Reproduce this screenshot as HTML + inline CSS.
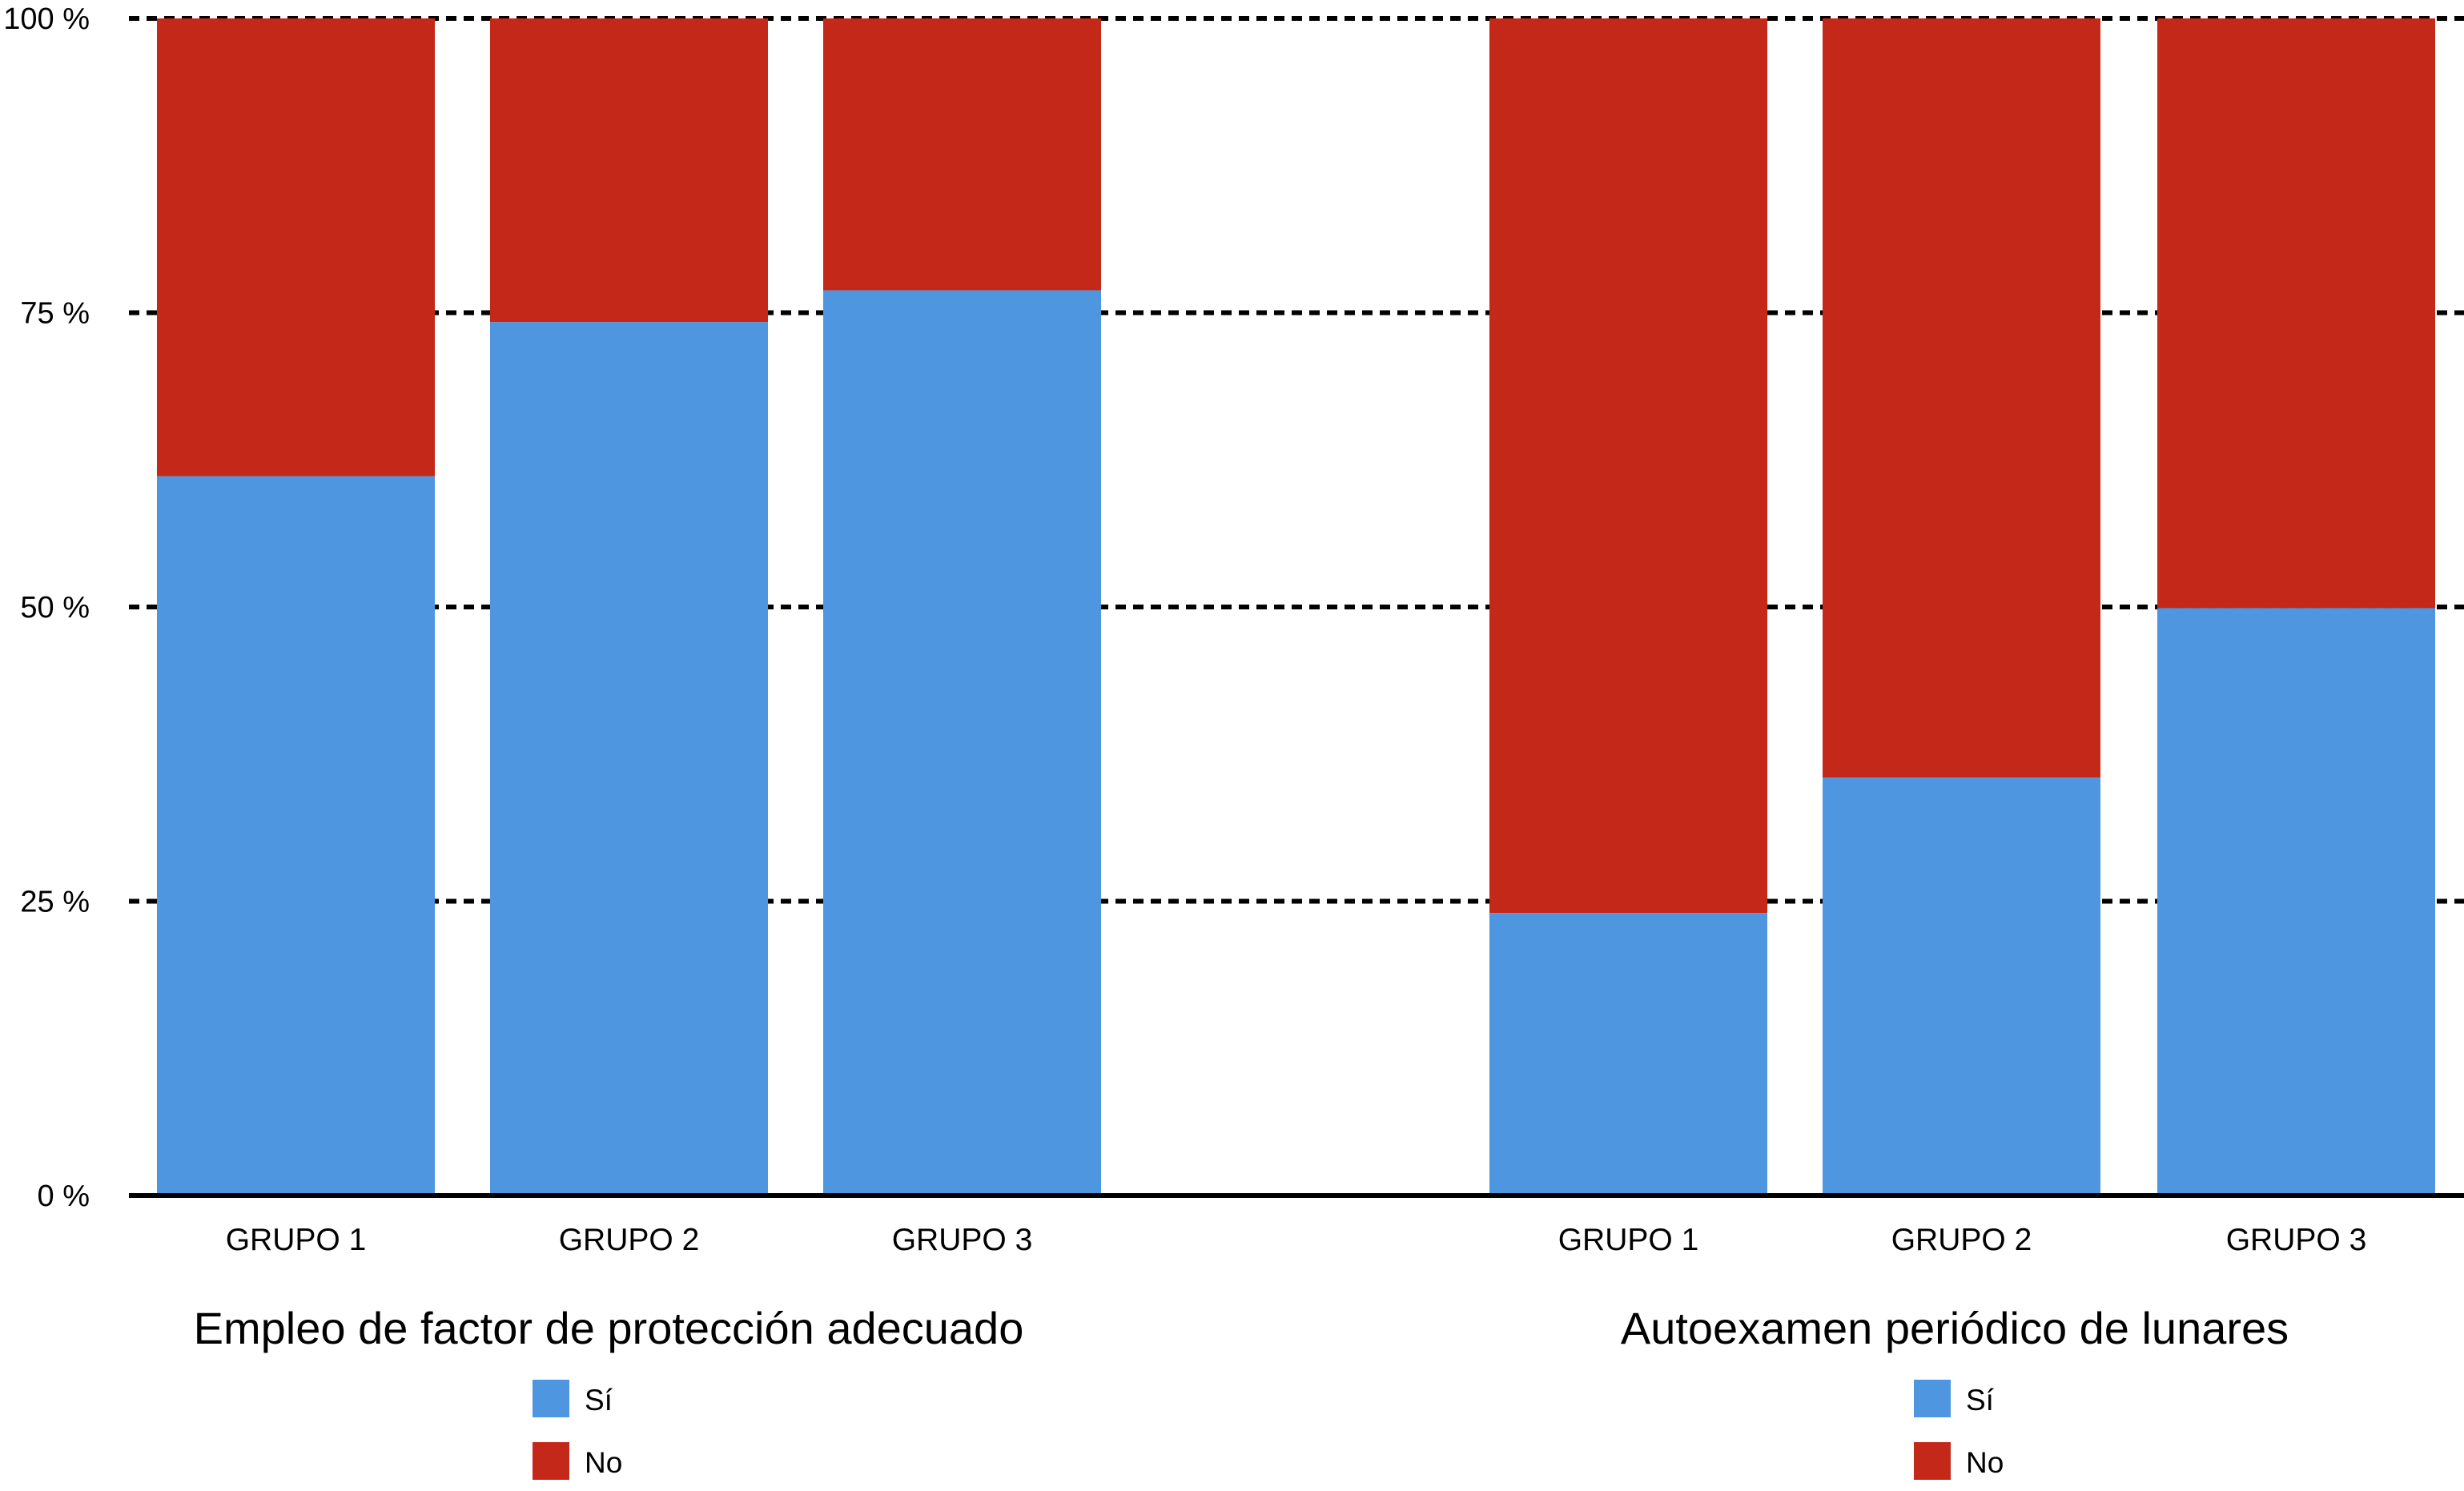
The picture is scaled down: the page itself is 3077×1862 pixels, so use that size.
<!DOCTYPE html>
<html><head><meta charset="utf-8"><style>
html,body{margin:0;padding:0;background:#fff;}
svg{display:block;}
text{font-family:"Liberation Sans Narrow","Liberation Sans",sans-serif;fill:#000;}
</style></head><body>
<svg id="chart" width="3077" height="1862" viewBox="0 0 3077 1862" xmlns="http://www.w3.org/2000/svg">
<g id="grid"></g><g id="bars"></g><g id="axis"></g><g id="labels"></g>
</svg>
<script>
const categories = ["GRUPO 1","GRUPO 2","GRUPO 3","GRUPO 1","GRUPO 2","GRUPO 3"];
const siValues = [61.1, 74.2, 76.9, 24.0, 35.5, 49.9];
const noValues = [38.9, 25.8, 23.1, 76.0, 64.5, 50.1];
const yTicks = [0, 25, 50, 75, 100];
const yTickLabels = ["0 %","25 %","50 %","75 %","100 %"];
const panelTitles = ["Empleo de factor de protección adecuado","Autoexamen periódico de lunares"];
const legendLabels = ["Sí","No"];

const NS="http://www.w3.org/2000/svg";
const BLUE="#4e97e0", RED="#c42818";
const y0=1493, y100=23;
function yScale(v){return y0-(y0-y100)*v/100;}
const barLefts=[196,612,1028,1860,2276,2694];
const barW=347;
function xScale(i){return barLefts[i];}
function mk(tag,attrs,parent){const e=document.createElementNS(NS,tag);for(const k in attrs)e.setAttribute(k,attrs[k]);parent.appendChild(e);return e;}

const grid=document.getElementById('grid');
const bars=document.getElementById('bars');
const axis=document.getElementById('axis');
const labels=document.getElementById('labels');

yTicks.forEach((t,i)=>{
  if(t>0){
    const l=mk('line',{x1:161,x2:3077,y1:yScale(t),y2:yScale(t),stroke:'#000','stroke-width':6,'stroke-dasharray':'13 9'},grid);
    
    
  }
  const tx=mk('text',{x:112,y:yScale(t)+13,'text-anchor':'end','font-size':38},labels);
  tx.textContent=yTickLabels[i];
  
  
});

categories.forEach((c,i)=>{
  const x=xScale(i);
  const ySi=yScale(siValues[i]);
  const yNo=yScale(siValues[i]+noValues[i]);
  const r1=mk('rect',{x:x,y:yNo,width:barW,height:ySi-yNo,fill:RED},bars);
  
  
  const r2=mk('rect',{x:x,y:ySi,width:barW,height:y0-ySi,fill:BLUE},bars);
  
  
  const t=mk('text',{x:x+barW/2,y:1561,'text-anchor':'middle','font-size':39},labels);
  t.textContent=c;
  
  
});

const base=mk('line',{x1:161,x2:3077,y1:y0,y2:y0,stroke:'#000','stroke-width':6},axis);



const titleX=[760,2441];
const legX=[665,2390];
panelTitles.forEach((pt,p)=>{
  const t=mk('text',{x:titleX[p],y:1678,'text-anchor':'middle','font-size':56},labels);
  t.textContent=pt;
  
  
  [BLUE,RED].forEach((col,k)=>{
    const ly=1723+k*78;
    const sw=mk('rect',{x:legX[p],y:ly,width:46,height:47,fill:col},labels);
    
    
    const lt=mk('text',{x:legX[p]+65,y:ly+38,'font-size':37},labels);
    lt.textContent=legendLabels[k];
    
    
  });
});
</script>
</body></html>
